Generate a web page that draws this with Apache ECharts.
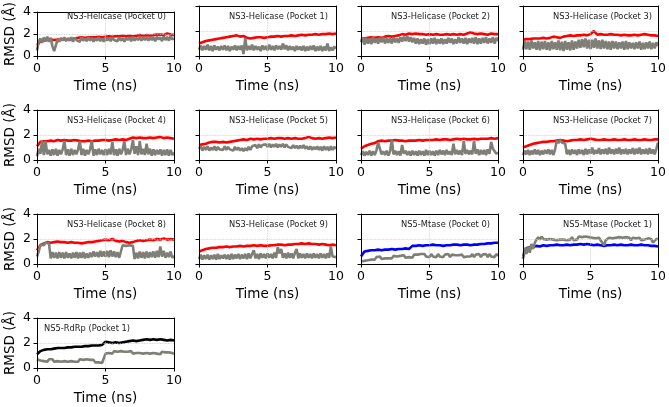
<!DOCTYPE html>
<html><head><meta charset="utf-8">
<script src="https://cdn.jsdelivr.net/npm/echarts@6/dist/echarts.min.js"></script>
<style>html,body{margin:0;padding:0;background:#fff}#c{width:669px;height:407px}</style>
</head><body><div id="c"></div>
<script>
// time axes: coloured traces every 0.25 ns, grey traces every 0.125 ns
const times = Array.from({length: 41}, (_, i) => i * 0.25);
const timesFine = Array.from({length: 81}, (_, i) => i * 0.125);
const xTicks = [0, 5, 10];
const yTicks = [0, 2, 4];

const titles = ["NS3-Helicase (Pocket 0)","NS3-Helicase (Pocket 1)","NS3-Helicase (Pocket 2)","NS3-Helicase (Pocket 3)",
"NS3-Helicase (Pocket 4)","NS3-Helicase (Pocket 5)","NS3-Helicase (Pocket 6)","NS3-Helicase (Pocket 7)",
"NS3-Helicase (Pocket 8)","NS3-Helicase (Pocket 9)","NS5-Mtase (Pocket 0)","NS5-Mtase (Pocket 1)","NS5-RdRp (Pocket 1)"];
const mainColors = ["#ff0000","#ff0000","#ff0000","#ff0000","#ff0000","#ff0000","#ff0000","#ff0000","#ff0000","#ff0000","#0000ff","#0000ff","#000000"];

const h0 = [1.0,1.35,1.4,1.45,1.5,1.45,1.5,1.5, 1.5,1.55,1.55,1.6,1.65,1.7,1.65,1.7, 1.7,1.7,1.75,1.7,1.75,1.8,1.75,1.8, 1.8,1.85,1.8,1.85,1.8,1.85,1.9,1.85, 1.9,1.85,1.9,1.95,1.95,1.9,2.05,1.95, 1.9];
const h1 = [1.0,1.1,1.2,1.25,1.3,1.35,1.4,1.45, 1.5,1.55,1.6,1.65,1.55,1.6,1.45,1.4, 1.45,1.5,1.5,1.45,1.5,1.55,1.55,1.6, 1.55,1.6,1.6,1.65,1.6,1.65,1.7,1.65, 1.7,1.7,1.75,1.7,1.75,1.75,1.8,1.75, 1.8];
const h2 = [1.35,1.4,1.45,1.5,1.45,1.5,1.45,1.55, 1.6,1.55,1.6,1.65,1.75,1.7,1.8,1.75, 1.8,1.75,1.75,1.7,1.75,1.7,1.75,1.7, 1.7,1.75,1.7,1.75,1.7,1.75,1.7,1.8, 1.9,1.8,1.75,1.8,1.75,1.7,1.8,1.75, 1.75];
const h3 = [1.3,1.35,1.35,1.4,1.4,1.4,1.45,1.4, 1.45,1.55,1.5,1.45,1.55,1.6,1.65,1.6, 1.65,1.65,1.7,1.65,1.75,2.0,1.7,1.75, 1.7,1.7,1.75,1.7,1.7,1.65,1.7,1.65, 1.65,1.7,1.65,1.7,1.75,1.7,1.65,1.65, 1.6];
const h4 = [1.1,1.45,1.5,1.5,1.55,1.5,1.6,1.55, 1.6,1.55,1.55,1.6,1.55,1.5,1.5,1.55, 1.5,1.55,1.55,1.6,1.6,1.55,1.6,1.65, 1.6,1.65,1.6,1.7,1.8,1.75,1.8,1.75, 1.75,1.8,1.75,1.8,1.85,1.75,1.8,1.75, 1.7];
const h5 = [1.2,1.25,1.3,1.4,1.45,1.45,1.4,1.45, 1.4,1.45,1.5,1.55,1.6,1.65,1.6,1.7, 1.65,1.7,1.65,1.7,1.7,1.75,1.7,1.75, 1.75,1.7,1.75,1.7,1.75,1.7,1.7,1.75, 1.85,1.75,1.7,1.75,1.7,1.75,1.8,1.75, 1.8];
const h6 = [0.9,1.1,1.2,1.3,1.35,1.5,1.55,1.5, 1.55,1.55,1.6,1.55,1.55,1.5,1.55,1.55, 1.55,1.6,1.55,1.6,1.6,1.6,1.65,1.6, 1.65,1.65,1.6,1.65,1.7,1.65,1.7,1.65, 1.65,1.7,1.65,1.7,1.7,1.7,1.75,1.7, 1.75];
const h7 = [1.0,1.1,1.2,1.3,1.35,1.4,1.45,1.45, 1.5,1.5,1.55,1.6,1.55,1.5,1.55,1.6, 1.6,1.65,1.6,1.65,1.7,1.65,1.6,1.6, 1.65,1.6,1.6,1.65,1.6,1.6,1.65,1.6, 1.6,1.65,1.6,1.6,1.65,1.6,1.6,1.65, 1.65];
const h8 = [1.1,1.5,1.65,1.75,1.7,1.75,1.8,1.75, 1.75,1.7,1.75,1.7,1.7,1.65,1.7,1.75, 1.75,1.8,1.85,1.9,1.95,1.9,2.0,1.85, 1.8,1.85,1.75,1.7,1.75,1.85,1.9,1.85, 1.9,1.95,1.9,2.0,1.95,2.05,1.95,2.0, 1.95];
const h9 = [1.0,1.1,1.2,1.25,1.3,1.3,1.35,1.35, 1.4,1.35,1.4,1.4,1.45,1.4,1.45,1.45, 1.5,1.45,1.5,1.45,1.45,1.5,1.5,1.55, 1.55,1.5,1.55,1.55,1.6,1.6,1.65,1.6, 1.65,1.6,1.6,1.55,1.6,1.55,1.5,1.55, 1.5];
const m0 = [0.6,1.0,1.05,1.1,1.1,1.15,1.1,1.15, 1.15,1.2,1.15,1.2,1.2,1.25,1.2,1.45, 1.45,1.5,1.45,1.5,1.5,1.55,1.5,1.5, 1.45,1.5,1.5,1.55,1.55,1.5,1.55,1.55, 1.5,1.55,1.55,1.6,1.6,1.65,1.65,1.7, 1.7];
const m1 = [0.6,1.25,1.35,1.35,1.45,1.4,1.5,1.45, 1.5,1.5,1.55,1.5,1.5,1.55,1.5,1.55, 1.55,1.6,1.55,1.6,1.55,1.5,1.55,1.5, 1.45,1.5,1.5,1.55,1.5,1.55,1.5,1.5, 1.55,1.5,1.5,1.55,1.5,1.5,1.45,1.45, 1.4];
const r1 = [1.1,1.35,1.45,1.5,1.5,1.55,1.6,1.6, 1.6,1.65,1.65,1.7,1.7,1.7,1.75,1.75, 1.8,1.8,1.8,1.85,2.1,2.05,2.0,2.05, 2.0,2.05,2.1,2.15,2.2,2.15,2.2,2.25, 2.3,2.25,2.3,2.25,2.3,2.25,2.2,2.25, 2.2];

const g0 = [0.5,1.3,1.6,1.2,1.7,1.35,1.75,1.3, 1.65,0.9,0.45,0.6,1.5,1.3,1.65,1.4, 1.7,1.35,1.6,1.4,1.7,1.3,1.65,1.45, 1.6,1.3,1.7,1.4,1.6,1.35,1.7,1.4, 1.65,1.3,1.6,1.4,1.7,1.35,1.6,1.3, 1.7,1.4,1.65,1.35,1.7,1.45,1.6,1.35, 1.7,1.4,1.6,1.3,1.65,1.45,1.7,1.35, 1.75,1.4,1.65,1.45,1.7,1.4,1.75,1.45, 1.7,1.4,1.75,1.45,1.7,1.35,1.75,1.5, 1.7,1.35,1.8,1.45,1.75,1.4,1.8,1.5, 1.6];
const g1 = [0.5,0.85,0.45,0.8,0.5,0.9,0.45,0.8, 0.4,0.85,0.5,0.75,0.45,0.8,0.5,0.85, 0.45,0.8,0.4,0.75,0.5,0.85,0.45,0.8, 0.5,0.85,0.15,1.45,0.45,0.8,0.5,0.9, 0.45,0.8,0.5,0.75,0.4,0.85,0.5,0.8, 0.45,0.9,0.5,0.8,0.45,0.85,0.55,0.8, 0.5,1.0,0.55,0.85,0.45,0.8,0.5,0.75, 0.4,0.8,0.5,0.75,0.45,0.8,0.4,0.75, 0.45,0.8,0.5,0.85,0.4,0.75,0.45,0.8, 0.4,0.75,0.45,1.0,0.4,0.7,0.45,0.75, 0.6];
const g2 = [1.1,1.5,0.9,1.45,1.0,1.4,0.95,1.5, 1.05,1.4,1.0,1.45,1.1,1.5,1.0,1.4, 1.05,1.45,1.0,1.5,1.1,1.4,1.05,1.5, 1.15,1.55,1.2,1.6,1.15,1.5,1.1,1.45, 1.0,1.4,0.95,1.35,1.0,1.4,0.9,1.35, 0.95,1.4,1.0,1.45,0.95,1.35,1.0,1.4, 0.95,1.35,1.0,1.45,1.05,1.4,0.95,1.35, 1.0,1.5,1.05,1.4,1.0,1.45,0.95,1.4, 1.05,1.45,1.0,1.5,0.95,1.4,1.0,1.45, 1.05,1.5,1.0,1.4,1.05,1.5,1.0,1.45, 1.2];
const g3 = [0.5,1.2,0.55,1.15,0.5,1.25,0.6,1.1, 0.5,1.2,0.45,1.15,0.55,1.2,0.5,1.1, 0.45,1.2,0.55,1.1,0.5,1.25,0.45,1.15, 0.4,1.2,0.5,1.1,0.45,1.25,0.5,1.15, 0.6,1.3,0.65,1.35,0.7,1.4,0.6,1.3, 0.55,1.3,0.65,1.4,0.6,1.25,0.55,1.3, 0.6,1.2,0.55,1.15,0.5,1.2,0.6,1.15, 0.55,1.1,0.6,1.15,0.5,1.2,0.55,1.1, 0.6,1.05,0.55,1.1,0.6,1.15,0.5,1.05, 0.55,1.1,0.6,1.15,0.55,1.05,0.6,1.1, 0.8];
const g4 = [0.3,0.9,0.5,1.55,0.4,1.5,0.45,0.8, 0.35,0.85,0.4,0.9,0.35,0.8,0.45,0.85, 1.55,0.4,0.85,0.35,0.9,0.4,0.8,0.45, 0.85,1.5,0.4,0.9,0.35,0.8,0.45,0.85, 1.55,0.35,0.85,0.4,0.9,0.45,0.8,0.4, 0.85,0.4,0.9,0.45,1.45,0.4,0.85,0.35, 0.9,0.45,0.8,1.5,0.4,0.9,0.45,0.85, 1.6,0.5,1.1,0.4,1.5,0.45,0.9,0.4, 1.3,0.45,0.9,0.35,0.85,0.4,0.8,0.45, 0.85,0.35,0.8,0.4,0.85,0.35,0.8,0.4, 0.6];
const g5 = [0.9,1.1,0.75,1.05,0.8,1.1,0.75,1.0, 0.8,1.1,0.75,1.05,0.85,1.0,0.8,1.1, 0.8,1.05,0.85,1.0,0.75,1.05,0.8,1.0, 0.75,0.95,0.7,0.95,0.75,1.05,0.8,1.1, 0.95,1.2,0.95,1.25,1.0,1.2,1.05,1.25, 1.05,1.3,1.0,1.25,1.05,1.3,1.0,1.25, 1.05,1.3,1.0,1.25,1.05,1.2,0.95,1.2, 0.95,1.15,0.9,1.15,0.95,1.2,0.9,1.1, 0.85,1.1,0.8,1.05,0.85,1.1,0.8,1.05, 0.75,1.1,0.8,1.05,0.75,1.1,0.8,1.05, 0.9];
const g6 = [0.4,0.7,0.35,0.65,0.4,0.75,0.35,0.7, 0.4,0.75,1.4,1.3,0.45,0.7,0.4,0.75, 0.35,0.7,1.65,0.45,0.75,0.4,0.7,0.35, 1.2,0.5,0.75,0.4,0.7,0.35,0.75,0.4, 0.7,0.35,0.75,0.4,0.7,0.35,0.8,0.4, 0.75,0.4,0.7,0.35,0.75,0.4,0.8,0.45, 0.75,0.4,0.8,0.45,0.7,0.4,1.3,0.45, 0.8,0.45,0.75,0.4,1.5,0.5,0.8,0.45, 0.75,0.45,1.55,0.5,0.85,0.4,0.8,0.45, 0.8,0.4,0.85,0.5,1.45,0.9,0.8,0.5, 0.6];
const g7 = [0.4,0.75,0.45,0.8,0.4,0.75,0.45,0.85, 0.45,0.8,0.4,0.75,0.45,0.8,0.5,0.85, 0.45,0.8,0.4,0.85,1.55,1.35,1.6,1.4, 1.55,1.3,0.45,0.8,0.4,0.85,0.5,0.8, 0.4,0.85,0.5,0.8,0.4,0.9,0.45,0.85, 0.5,1.0,0.45,0.8,0.5,0.95,0.45,0.85, 0.5,0.9,0.45,1.0,0.5,0.85,0.45,0.9, 0.5,1.0,0.45,0.85,0.5,0.9,0.45,0.85, 0.5,0.95,0.45,0.9,0.5,1.0,0.45,0.85, 0.5,0.9,0.45,0.95,0.5,0.85,0.45,0.9, 1.4];
const g8 = [0.6,1.0,1.55,1.65,1.5,1.7,1.55,1.65, 0.45,0.95,0.5,0.9,0.45,0.95,0.5,0.9, 0.45,0.95,0.5,0.85,0.45,0.9,0.5,0.95, 0.45,0.9,0.5,0.95,0.45,0.85,0.5,0.9, 0.55,1.0,0.6,0.95,0.55,1.05,0.6,1.0, 0.6,1.05,0.55,1.1,0.6,1.0,0.55,0.95, 0.5,1.0,1.5,1.6,1.45,1.55,1.5,1.6, 1.45,0.4,0.9,0.45,1.0,0.5,0.95,0.45, 1.0,0.5,0.95,0.55,1.0,0.5,1.05,0.55, 1.4,0.6,1.05,0.5,0.9,0.55,1.0,0.5, 0.65];
const g9 = [0.4,0.75,0.35,0.7,0.4,0.75,0.35,0.7, 0.4,0.75,0.35,0.8,0.4,0.7,0.45,0.75, 0.4,0.75,0.35,0.8,0.4,0.75,0.45,0.8, 0.4,0.75,0.45,0.8,0.4,0.85,0.45,0.8, 1.1,0.45,0.8,0.4,0.85,0.5,0.8,0.45, 0.85,0.5,0.8,0.45,0.9,0.5,1.35,0.85, 1.2,0.5,0.85,0.45,0.9,0.5,0.85,0.45, 0.9,1.2,0.45,0.85,0.5,0.8,0.45,0.85, 0.5,0.8,0.45,0.85,0.5,0.8,0.45,0.85, 0.5,0.8,0.45,0.85,0.5,1.4,0.6,0.5, 0.55];
const gm0 = [0.2,0.35,0.25,0.4,0.3,0.45,0.35,0.5, 0.35,0.55,0.4,0.6,0.4,0.55,0.45,0.6, 0.45,0.6,0.45,0.65,0.5,0.6,0.45,0.65, 0.5,0.7,0.5,0.65,0.55,0.7,0.5,0.75, 0.6,0.75,0.6,0.8,0.65,0.8,0.6,0.75, 0.55,0.8,0.6,0.75,0.55,0.8,0.6,0.75, 0.55,0.75,0.6,0.8,0.55,0.75,0.6,0.7, 0.55,0.7,0.6,0.75,0.55,0.7,0.6,0.75, 0.6,0.8,0.55,0.75,0.6,0.8,0.55,0.75, 0.6,0.8,0.55,0.8,0.6,0.75,0.55,0.8, 0.65];
const gm1 = [0.4,1.3,0.8,1.4,0.9,1.6,1.2,1.7, 1.95,2.15,1.95,2.2,2.0,2.15,1.95,2.1, 2.0,2.15,1.95,2.1,1.9,2.05,1.95,2.1, 1.95,2.1,1.9,2.05,1.95,2.15,1.9,2.05, 1.95,2.2,2.05,2.15,2.0,2.2,2.05,2.15, 2.0,2.1,1.95,2.05,2.0,2.1,1.9,2.05, 1.5,1.9,2.0,2.1,1.95,2.05,2.0,2.1, 1.95,2.15,2.05,2.1,2.0,2.15,2.05,2.1, 1.9,2.1,1.95,2.05,1.95,2.1,1.9,2.05, 1.95,2.0,2.05,1.9,2.0,1.7,1.8,2.0, 2.0];
const gr1 = [0.7,0.85,0.6,0.75,0.55,0.7,0.5,0.7, 0.55,0.7,0.5,0.65,0.55,0.7,0.5,0.65, 0.55,0.7,0.5,0.65,0.55,0.7,0.5,0.65, 0.5,0.7,0.55,0.65,0.5,0.7,0.55,0.65, 0.5,0.65,0.45,0.6,0.45,0.55,0.4,0.55, 1.15,1.3,1.2,1.3,1.15,1.35,1.2,1.3, 1.2,1.35,1.2,1.3,1.15,1.3,1.2,1.35, 1.15,1.3,1.2,1.35,1.2,1.3,1.15,1.3, 1.2,1.3,1.15,1.25,1.2,1.3,1.15,1.25, 1.1,1.3,1.15,1.25,1.1,1.25,1.15,1.2, 1.1];

const mainSeries = [h0,h1,h2,h3,h4,h5,h6,h7,h8,h9,m0,m1,r1];
const graySeries = [g0,g1,g2,g3,g4,g5,g6,g7,g8,g9,gm0,gm1,gr1];

const FONT = "DejaVu Sans";
const grids = [], xAxes = [], yAxes = [], series = [], graphics = [];
const L0 = 37, T0 = 6, DX = 162, DY = 104, W = 137, H = 50;
const frameLine = {show: true, onZero: false, lineStyle: {color: '#000', width: 1}};
titles.forEach((t, k) => {
  const r = Math.floor(k / 4), c = k % 4;
  const left = L0 + c * DX, top = T0 + r * DY;
  grids.push({left: left, top: top, width: W, height: H});
  xAxes.push({type: 'value', gridIndex: k, min: 0, max: 10, interval: 5, position: 'bottom',
    name: 'Time (ns)', nameLocation: 'middle', nameGap: 23,
    nameTextStyle: {fontFamily: FONT, fontSize: 13.5, color: '#000'},
    axisLine: frameLine,
    axisTick: {show: true, length: 3.5, lineStyle: {color: '#000'}},
    axisLabel: {fontFamily: FONT, fontSize: 12.5, color: '#000', margin: 6},
    splitLine: {show: true, lineStyle: {color: '#c8c8c8', type: 'dotted', width: 0.8}}, z: 5});
  yAxes.push({type: 'value', gridIndex: k, min: 0, max: 4, interval: 2, position: 'left',
    name: c === 0 ? 'RMSD (Å)' : '', nameLocation: 'middle', nameGap: 20,
    nameTextStyle: {fontFamily: FONT, fontSize: 13.5, color: '#000'},
    axisLine: frameLine,
    axisTick: {show: true, length: 3.5, lineStyle: {color: '#000'}},
    axisLabel: {show: c === 0, fontFamily: FONT, fontSize: 12.5, color: '#000', margin: 6},
    splitLine: {show: true, lineStyle: {color: '#c8c8c8', type: 'dotted', width: 0.8}}, z: 5});
  series.push({type: 'line', xAxisIndex: 2 * k, yAxisIndex: 2 * k, showSymbol: false, symbol: 'none',
    data: times.map((x, i) => [x, mainSeries[k][i]]), lineStyle: {color: mainColors[k], width: 2.6}, clip: true, z: 2});
  series.push({type: 'line', xAxisIndex: 2 * k, yAxisIndex: 2 * k, showSymbol: false, symbol: 'none',
    data: timesFine.map((x, i) => [x, graySeries[k][i]]), lineStyle: {color: '#7f7e77', width: 2.6}, clip: true, z: 3});
  xAxes.push({type: 'value', gridIndex: k, min: 0, max: 10, position: 'top', axisLine: frameLine,
    axisTick: {show: false}, axisLabel: {show: false}, splitLine: {show: false}, z: 5});
  yAxes.push({type: 'value', gridIndex: k, min: 0, max: 4, position: 'right', axisLine: frameLine,
    axisTick: {show: false}, axisLabel: {show: false}, splitLine: {show: false}, z: 5});
  const isRdRp = t.indexOf('RdRp') >= 0;
  graphics.push({type: 'text', z: 10,
    x: isRdRp ? left + 7 : left + W - 8, y: top + 11,
    style: {text: t, fontFamily: FONT, fontSize: 8.3, fill: '#222', align: isRdRp ? 'left' : 'right', verticalAlign: 'middle'}});
});

const chart = echarts.init(document.getElementById('c'), null, {renderer: 'canvas'});
chart.setOption({animation: false, backgroundColor: '#fff', grid: grids, xAxis: xAxes, yAxis: yAxes, series: series, graphic: graphics});
</script></body></html>
